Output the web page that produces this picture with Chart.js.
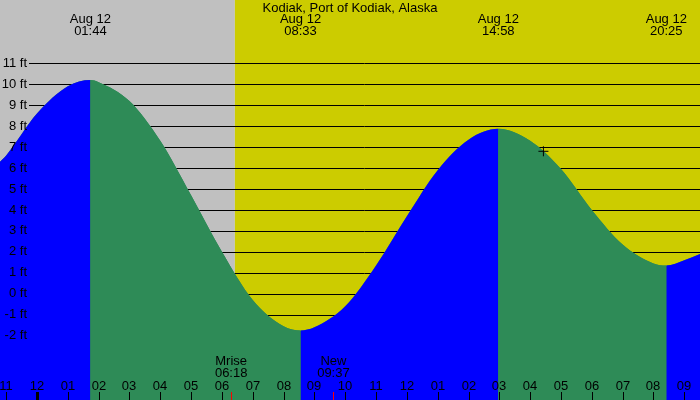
<!DOCTYPE html>
<html>
<head>
<meta charset="utf-8">
<script src="https://cdn.jsdelivr.net/npm/chart.js@4.4.1/dist/chart.umd.min.js"></script>
<style>
  body { margin: 0; background: #fff; }
  #wrap { width: 700px; height: 400px; }
</style>
</head>
<body>
<div id="wrap"><canvas id="tideChart" width="700" height="400"></canvas></div>
<script>
// *******************  data

let titleText = 'Kodiak, Port of Kodiak, Alaska';

// hours from midnight Aug 12, tide height in ft
let tideHours = [-1.2, -1, 0, 1, 1.733, 2, 3, 4, 5, 6, 7, 8, 8.55, 9, 10, 11, 12, 13, 14, 14.967, 16, 17, 18, 19, 20, 20.417, 21, 21.51];
let tideFeet = [6.3, 6.6, 8.6, 9.9, 10.2, 10.1, 9.2, 7.3, 4.7, 2.0, -0.3, -1.55, -1.75, -1.6, -0.6, 1.35, 3.7, 5.9, 7.35, 7.87, 7.3, 5.95, 4.0, 2.35, 1.45, 1.35, 1.6, 1.9];

// highs and lows labelled on top
let extremeHours = [1.733, 8.55, 14.967, 20.417];
let extremeDates = ['Aug 12', 'Aug 12', 'Aug 12', 'Aug 12'];
let extremeTimes = ['01:44', '08:33', '14:58', '20:25'];

// moon events at the bottom
let moonHours = [6.3, 9.617];
let moonNames = ['Mrise', 'New'];
let moonTimes = ['06:18', '09:37'];

let sunriseHour = 6.42;

// current time marker
let nowHour = 16.43;
let nowFeet = 6.8;

// axis ticks
let hourTicks = [-1, 0, 1, 2, 3, 4, 5, 6, 7, 8, 9, 10, 11, 12, 13, 14, 15, 16, 17, 18, 19, 20, 21];
let hourLabels = ['11', '12', '01', '02', '03', '04', '05', '06', '07', '08', '09', '10', '11', '12', '01', '02', '03', '04', '05', '06', '07', '08', '09'];
let feetTicks = [-2, -1, 0, 1, 2, 3, 4, 5, 6, 7, 8, 9, 10, 11];

// *******************  colours

let nightColor = '#c0c0c0';
let dayColor = '#cccc00';
let risingColor = '#0000ff';
let fallingColor = '#2e8b57';
let font = '13px "Liberation Sans", Arial, sans-serif';

// *******************  background, grid and text

let tidePlugin = {
  id: 'tideDecor',
  beforeDatasetsDraw(chart) {
    let c = chart.ctx;
    let area = chart.chartArea;
    let x = chart.scales.x;
    let y = chart.scales.y;
    let sx = x.getPixelForValue(sunriseHour);

    c.save();
    c.fillStyle = nightColor;
    c.fillRect(area.left, area.top, sx - area.left, area.bottom - area.top);
    c.fillStyle = dayColor;
    c.fillRect(sx, area.top, area.right - sx, area.bottom - area.top);

    // ft lines sit behind the water
    c.strokeStyle = '#000';
    c.lineWidth = 1;
    for (let i = 0; i < feetTicks.length; i++) {
      let py = Math.round(y.getPixelForValue(feetTicks[i])) + 0.5;
      c.beginPath();
      c.moveTo(29, py);
      c.lineTo(area.right, py);
      c.stroke();
    }
    c.restore();
  },
  afterDatasetsDraw(chart) {
    let c = chart.ctx;
    let area = chart.chartArea;
    let x = chart.scales.x;
    let y = chart.scales.y;

    c.save();
    c.fillStyle = '#000';
    c.font = font;
    c.textBaseline = 'middle';

    // left labels
    c.textAlign = 'right';
    for (let i = 0; i < feetTicks.length; i++) {
      c.fillText(feetTicks[i] + ' ft', 27, y.getPixelForValue(feetTicks[i]));
    }

    c.textAlign = 'center';
    c.fillText(titleText, 350, 8);

    // high / low labels
    for (let i = 0; i < extremeHours.length; i++) {
      let px = x.getPixelForValue(extremeHours[i]);
      c.fillText(extremeDates[i], px, 19.5);
      c.fillText(extremeTimes[i], px, 31.5);
    }

    // moon labels
    for (let i = 0; i < moonHours.length; i++) {
      let px = x.getPixelForValue(moonHours[i]);
      c.fillText(moonNames[i], px, 361.5);
      c.fillText(moonTimes[i], px, 373.5);
    }

    // hour labels and ticks
    for (let i = 0; i < hourTicks.length; i++) {
      let px = Math.round(x.getPixelForValue(hourTicks[i]));
      c.fillText(hourLabels[i], px, 386);
      c.fillRect(hourTicks[i] === 0 ? px - 1 : px, 392, hourTicks[i] === 0 ? 3 : 1, area.bottom - 392);
    }
    c.fillStyle = '#ff0000';
    for (let i = 0; i < moonHours.length; i++) {
      let px = Math.round(x.getPixelForValue(moonHours[i]));
      c.fillRect(px, 392, 1, area.bottom - 392);
    }
    c.restore();
  }
};

// *******************  chart

let tidePoints = [];
for (let i = 0; i < tideHours.length; i++) {
  tidePoints.push({x: tideHours[i], y: tideFeet[i]});
}

let ctx = document.getElementById('tideChart');

new Chart(ctx, {
  type: 'line',
  data: {
    datasets: [{
      label: 'now',
      data: [{x: nowHour, y: nowFeet}],
      showLine: false,
      pointStyle: 'cross',
      pointRadius: 5,
      borderColor: '#000',
      borderWidth: 1
    },
    {
      label: 'tide',
      data: tidePoints,
      fill: 'start',
      backgroundColor: fallingColor,
      borderColor: 'rgba(0,0,0,0)',
      borderWidth: 0,
      pointRadius: 0,
      cubicInterpolationMode: 'monotone',
      segment: {
        backgroundColor: s => s.p1.parsed.y > s.p0.parsed.y ? risingColor : fallingColor
      }
    },
    {
      // plain green underneath so no seam shows where blue meets green
      label: 'under',
      data: tidePoints,
      fill: 'start',
      backgroundColor: fallingColor,
      borderColor: 'rgba(0,0,0,0)',
      borderWidth: 0,
      pointRadius: 0,
      cubicInterpolationMode: 'monotone'
    }]
  },
  options: {
    responsive: false,
    animation: false,
    devicePixelRatio: 1,
    layout: { padding: 0, autoPadding: false },
    scales: {
      x: { type: 'linear', min: -1.2, max: 21.51, display: false },
      y: { type: 'linear', min: -5.07, max: 14.02, display: false }
    },
    plugins: {
      legend: { display: false },
      tooltip: { enabled: false }
    }
  },
  plugins: [tidePlugin]
});
</script>
</body>
</html>
